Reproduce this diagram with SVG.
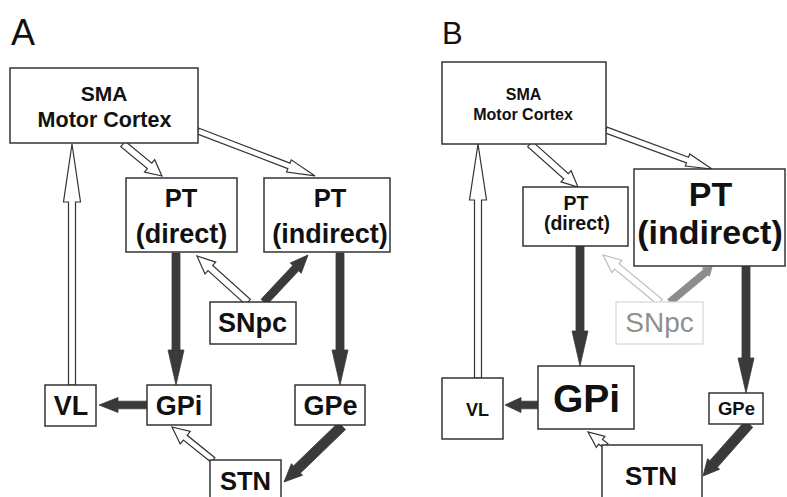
<svg xmlns="http://www.w3.org/2000/svg" width="787" height="497" viewBox="0 0 787 497">
<style>
text{font-family:"Liberation Sans",Arial,sans-serif;font-weight:bold;fill:#111;text-anchor:middle}
.lbl{font-weight:normal;text-anchor:start}
.box{fill:#fff;stroke:#333;stroke-width:1.5}
.pale{fill:#fff;stroke:#d6d6d6;stroke-width:1.2}
.open{fill:#fff;stroke:#333;stroke-width:1.2;stroke-linejoin:miter}
.openpale{fill:#fff;stroke:#bdbdbd;stroke-width:1.2}
.dark{fill:#3a3a3a;stroke:#3a3a3a;stroke-width:0.8}
.gray{fill:#8c8c8c;stroke:#8c8c8c;stroke-width:0.8}
</style>
<rect width="787" height="497" fill="#fff"/>
<text class="lbl" x="11" y="45" font-size="36">A</text>
<text class="lbl" x="442" y="44" font-size="31">B</text>
<g id="connectors">
  <!-- Panel A -->
  <polygon class="open" transform="translate(72,385) rotate(-90)" points="0,-3.5 183,-3.5 183,-8.5 241,0 183,8.5 183,3.5 0,3.5"/>
  <polygon class="open" transform="translate(123,144) rotate(39.4)" points="0,-3.5 34.4,-3.5 34.4,-8 50.4,0 34.4,8 34.4,3.5 0,3.5"/>
  <polygon class="open" transform="translate(198,131) rotate(21)" points="0,-3 97.4,-3 97.4,-6.5 125.4,0 97.4,6.5 97.4,3 0,3"/>
  <polygon class="dark" transform="translate(176,253) rotate(90)" points="0,-4 97,-4 97,-8 132,0 97,8 97,4 0,4"/>
  <polygon class="dark" transform="translate(340,253) rotate(90)" points="0,-4 97,-4 97,-8 132,0 97,8 97,4 0,4"/>
  <polygon class="open" transform="translate(248,302) rotate(-137.95)" points="0,-3.5 50.7,-3.5 50.7,-8 68.7,0 50.7,8 50.7,3.5 0,3.5"/>
  <polygon class="dark" transform="translate(264,302) rotate(-46.9)" points="0,-4 46.4,-4 46.4,-7.5 64.4,0 46.4,7.5 46.4,4 0,4"/>
  <polygon class="dark" transform="translate(147,405) rotate(180)" points="0,-3.8 29,-3.8 29,-7.5 48,0 29,7.5 29,3.8 0,3.8"/>
  <polygon class="open" transform="translate(213,460) rotate(-141.17)" points="0,-3 35.6,-3 35.6,-8 52.6,0 35.6,8 35.6,3 0,3"/>
  <polygon class="dark" transform="translate(342,426) rotate(136)" points="0,-5 62.6,-5 62.6,-8 80.6,0 62.6,8 62.6,5 0,5"/>
  <!-- Panel B -->
  <polygon class="open" transform="translate(478,378) rotate(-90)" points="0,-3.5 178,-3.5 178,-8.5 234,0 178,8.5 178,3.5 0,3.5"/>
  <polygon class="open" transform="translate(530,144) rotate(41.86)" points="0,-3.5 48.4,-3.5 48.4,-7.5 64.4,0 48.4,7.5 48.4,3.5 0,3.5"/>
  <polygon class="open" transform="translate(606,130) rotate(20.2)" points="0,-3 86.9,-3 86.9,-6.5 112.9,0 86.9,6.5 86.9,3 0,3"/>
  <polygon class="dark" transform="translate(580,246) rotate(90)" points="0,-4 85,-4 85,-8 120,0 85,8 85,4 0,4"/>
  <polygon class="dark" transform="translate(746,266) rotate(90)" points="0,-4 92,-4 92,-8 127,0 92,8 92,4 0,4"/>
  <polygon class="openpale" transform="translate(660,302) rotate(-140.5)" points="0,-3.5 55.9,-3.5 55.9,-8 73.9,0 55.9,8 55.9,3.5 0,3.5"/>
  <polygon class="gray" transform="translate(670,302) rotate(-39.8)" points="0,-3.5 46.7,-3.5 46.7,-5.5 54.7,0 46.7,5.5 46.7,3.5 0,3.5"/>
  <polygon class="dark" transform="translate(538,405) rotate(180)" points="0,-3.8 17,-3.8 17,-7.5 33,0 17,7.5 17,3.8 0,3.8"/>
  <polygon class="open" transform="translate(606,446) rotate(-142.1)" points="0,-3 6.8,-3 6.8,-7 22.8,0 6.8,7 6.8,3 0,3"/>
  <polygon class="dark" transform="translate(749,424) rotate(131.5)" points="0,-5 53.4,-5 53.4,-8 69.4,0 53.4,8 53.4,5 0,5"/>
</g>
<!-- Panel A nodes -->
<g id="A-SMA"><rect class="box" x="10" y="68" width="188" height="75"/><text x="104" y="101" font-size="21">SMA</text><text x="104.5" y="127" font-size="21.5">Motor Cortex</text></g>
<g id="A-PTdirect"><rect class="box" x="126" y="178" width="111" height="74"/><text x="181" y="207" font-size="25.5">PT</text><text x="181.5" y="243" font-size="27">(direct)</text></g>
<g id="A-PTindirect"><rect class="box" x="264" y="178" width="126" height="74"/><text x="330" y="207" font-size="25.5">PT</text><text x="330" y="243" font-size="27">(indirect)</text></g>
<g id="A-SNpc"><rect class="box" x="210" y="302" width="86" height="42"/><text x="252.5" y="332" font-size="27">SNpc</text></g>
<g id="A-VL"><rect class="box" x="45" y="385" width="51" height="41"/><text x="71" y="415" font-size="27">VL</text></g>
<g id="A-GPi"><rect class="box" x="147" y="385" width="64" height="40"/><text x="179" y="415" font-size="27">GPi</text></g>
<g id="A-GPe"><rect class="box" x="295" y="385" width="70" height="40"/><text x="330.5" y="415" font-size="27">GPe</text></g>
<g id="A-STN"><rect class="box" x="210" y="460" width="71" height="45"/><text x="245.5" y="490" font-size="25.5">STN</text></g>
<!-- Panel B nodes -->
<g id="B-SMA"><rect class="box" x="442" y="62" width="164" height="82"/><text x="523.5" y="100" font-size="16">SMA</text><text x="523" y="120" font-size="16">Motor Cortex</text></g>
<g id="B-PTdirect"><rect class="box" x="523" y="187" width="105" height="59"/><text x="576" y="210" font-size="19.5">PT</text><text x="577" y="230" font-size="19.5">(direct)</text></g>
<g id="B-PTindirect"><rect class="box" x="634" y="169" width="151" height="97"/><text x="710.5" y="206" font-size="34">PT</text><text x="710" y="244" font-size="34">(indirect)</text></g>
<g id="B-SNpc"><rect class="pale" x="616" y="302" width="87" height="42"/><text x="659.5" y="332" font-size="28" font-weight="normal" style="font-weight:normal;fill:#8f8f8f">SNpc</text></g>
<g id="B-VL"><rect class="box" x="442" y="378" width="61" height="61"/><text x="477.5" y="416" font-size="18">VL</text></g>
<g id="B-GPi"><rect class="box" x="538" y="366" width="96" height="63"/><text x="586.5" y="412" font-size="39">GPi</text></g>
<g id="B-GPe"><rect class="box" x="709" y="393" width="54" height="31"/><text x="736.5" y="415" font-size="18.5">GPe</text></g>
<g id="B-STN"><rect class="box" x="602" y="445" width="100" height="60"/><text x="651" y="485" font-size="26">STN</text></g>
</svg>
